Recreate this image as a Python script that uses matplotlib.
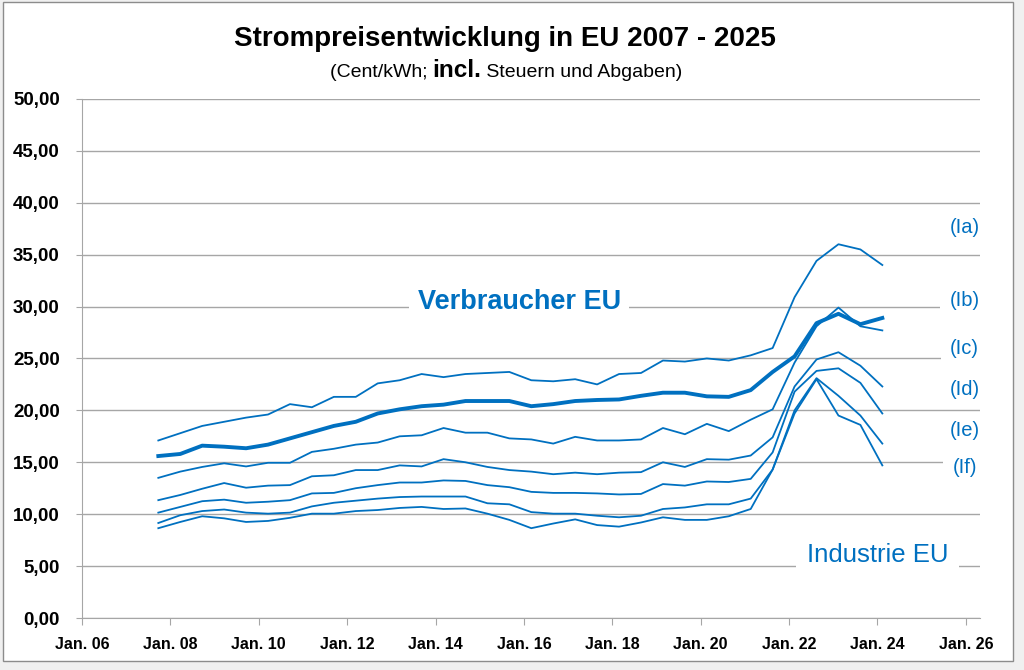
import matplotlib
matplotlib.use("Agg")
import matplotlib.pyplot as plt
import numpy as np
from matplotlib import font_manager as fm
from matplotlib.patches import Rectangle
from matplotlib.ticker import FixedLocator, FuncFormatter

# ---------------- data (Cent/kWh, semi-annual 2007-S2 ... 2024-S1) ----------------
periods = ["2007-S2"] + [f"{y}-S{s}" for y in range(2008, 2024) for s in (1, 2)] + ["2024-S1"]

households = [15.6, 15.8, 16.6, 16.5, 16.35, 16.7, 17.3, 17.9, 18.5, 18.9, 19.7, 20.1, 20.4, 20.55,
              20.9, 20.9, 20.9, 20.4, 20.6, 20.9, 21.0, 21.05, 21.4, 21.7, 21.7, 21.35, 21.3, 21.95,
              23.7, 25.2, 28.4, 29.3, 28.3, 28.9]
ind_ia = [17.1, 17.8, 18.5, 18.9, 19.3, 19.6, 20.6, 20.3, 21.3, 21.3, 22.6, 22.9, 23.5, 23.2, 23.5,
          23.6, 23.7, 22.9, 22.8, 23.0, 22.5, 23.5, 23.6, 24.8, 24.7, 25.0, 24.8, 25.3, 26.0, 30.9,
          34.4, 36.0, 35.5, 34.0]
ind_ib = [13.5, 14.1, 14.55, 14.9, 14.6, 14.95, 14.95, 16.0, 16.3, 16.7, 16.9, 17.5, 17.6, 18.3,
          17.85, 17.85, 17.3, 17.2, 16.8, 17.45, 17.1, 17.1, 17.2, 18.3, 17.7, 18.7, 18.0, 19.1,
          20.1, 24.6, 28.1, 29.9, 28.1, 27.7]
ind_ic = [11.35, 11.85, 12.45, 13.0, 12.55, 12.75, 12.8, 13.65, 13.75, 14.25, 14.25, 14.7, 14.6,
          15.3, 15.0, 14.55, 14.25, 14.1, 13.85, 14.0, 13.85, 14.0, 14.05, 15.0, 14.55, 15.3, 15.25,
          15.65, 17.4, 22.3, 24.9, 25.6, 24.3, 22.3]
ind_id = [10.15, 10.7, 11.25, 11.4, 11.1, 11.2, 11.35, 12.0, 12.05, 12.5, 12.8, 13.05, 13.05, 13.25,
          13.2, 12.8, 12.6, 12.15, 12.05, 12.05, 12.0, 11.9, 11.95, 12.9, 12.75, 13.15, 13.1, 13.4,
          15.95, 21.8, 23.8, 24.05, 22.65, 19.7]
ind_ie = [9.15, 9.9, 10.3, 10.45, 10.15, 10.05, 10.15, 10.75, 11.1, 11.3, 11.5, 11.65, 11.7, 11.7,
          11.7, 11.05, 10.95, 10.2, 10.05, 10.05, 9.85, 9.7, 9.85, 10.5, 10.65, 10.95, 10.95, 11.5,
          14.3, 20.0, 23.1, 21.4, 19.5, 16.8]
ind_if = [8.65, 9.25, 9.8, 9.6, 9.25, 9.35, 9.65, 10.05, 10.05, 10.3, 10.4, 10.6, 10.7, 10.5, 10.55,
          10.05, 9.45, 8.65, 9.1, 9.5, 8.95, 8.8, 9.2, 9.7, 9.45, 9.45, 9.8, 10.5, 14.3, 19.7, 23.0,
          19.5, 18.6, 14.7]

industry_series = [ind_ia, ind_ib, ind_ic, ind_id, ind_ie, ind_if]
industry_labels = ["(Ia)", "(Ib)", "(Ic)", "(Id)", "(Ie)", "(If)"]
industry_label_levels = [37.6, 30.6, 25.95, 22.0, 18.1, 14.5]

x_tick_years = list(range(2006, 2027, 2))
x_tick_labels = [f"Jan. {y % 100:02d}" for y in x_tick_years]
y_ticks = list(range(0, 51, 5))

title = "Strompreisentwicklung in EU 2007 - 2025"
sub_parts = [("(Cent/kWh; ", "normal", 14), ("incl.", "bold", 17.5), (" Steuern und Abgaben)", "normal", 14)]

# ---------------- fonts ----------------
def has_font(name):
    try:
        fm.findfont(fm.FontProperties(family=name), fallback_to_default=False)
        return True
    except Exception:
        return False

NARROW = "Liberation Sans Narrow" if has_font("Liberation Sans Narrow") else "Liberation Sans"
SANS = "Liberation Sans"
plt.rcParams["font.family"] = [SANS, "DejaVu Sans"]

BLUE = "#0070C0"
GRID = "#a6a6a6"

# ---------------- figure ----------------
W, H = 1024, 670
fig = plt.figure(figsize=(W / 100, H / 100), dpi=100, facecolor="#f0f0f0")
fig.patches.append(Rectangle((3 / W, 1 - 661 / H), 1010 / W, 659 / H, transform=fig.transFigure,
                             facecolor="white", edgecolor="#8c8c8c", linewidth=1.0, zorder=-10))

ax = fig.add_axes([82 / W, 1 - 618 / H, 898 / W, 519.1 / H])
ax.set_facecolor("none")
ax.set_zorder(5)

# x positions of the semi-annual observations
x_first, x_last = 2007.727, 2024.11
xpos = np.linspace(x_first, x_last, len(periods))

for s in industry_series:
    ax.plot(xpos, s, color=BLUE, lw=1.3, solid_joinstyle="round", zorder=3)
ax.plot(xpos, households, color=BLUE, lw=2.8, solid_joinstyle="round", zorder=4)

ax.set_xlim(2006, 2026.32)
ax.set_ylim(0, 50)
ax.yaxis.set_major_locator(FixedLocator(y_ticks))
ax.yaxis.set_major_formatter(FuncFormatter(lambda v, p: f"{v:.2f}".replace(".", ",")))
ax.set_xticks(x_tick_years)
ax.set_xticklabels(x_tick_labels)

ax.grid(axis="y", color=GRID, lw=1.0, zorder=1)
ax.grid(axis="x", visible=False)
ax.set_axisbelow(True)
for side in ("top", "right"):
    ax.spines[side].set_visible(False)
ax.spines["left"].set_color(GRID)
ax.spines["bottom"].set_color(GRID)
ax.tick_params(axis="y", direction="out", length=4, color=GRID, pad=12, labelsize=13.5)
ax.tick_params(axis="x", direction="out", length=5, color=GRID, pad=9, labelsize=11.5)
for lab in ax.get_yticklabels():
    lab.set_fontweight("bold"); lab.set_family([NARROW, SANS])
for lab in ax.get_xticklabels():
    lab.set_fontweight("bold"); lab.set_family([NARROW, SANS])

# annotations
ax.text(2015.89, 29.75, "Verbraucher EU", color=BLUE, fontsize=19.5, fontweight="bold",
        ha="center", va="baseline", zorder=5,
        bbox=dict(boxstyle="square,pad=0.3", facecolor="white", edgecolor="none"))
ax.text(2024.0, 5.4, "Industrie EU", color=BLUE, fontsize=18.5,
        ha="center", va="baseline", zorder=5,
        bbox=dict(boxstyle="square,pad=0.4", facecolor="white", edgecolor="none"))
for lab, lev in zip(industry_labels, industry_label_levels):
    ax.text(2025.97, lev, lab, color=BLUE, fontsize=14.5, ha="center", va="center", zorder=5,
            bbox=dict(boxstyle="square,pad=0.45", facecolor="white", edgecolor="none"))

# title and subtitle
fig.text(505 / W, 1 - 39 / H, title, ha="center", va="center", fontsize=20, fontweight="bold",
         family=[NARROW, SANS])

renderer = fig.canvas.get_renderer()
texts = []
for s, wgt, sz in sub_parts:
    t = fig.text(0, 1 - 77 / H, s, ha="left", va="baseline", fontsize=sz, fontweight=wgt,
                 family=[NARROW, SANS])
    texts.append(t)
widths = [t.get_window_extent(renderer).width for t in texts]
total = sum(widths)
xcur = 506 - total / 2
for t, w in zip(texts, widths):
    t.set_x(xcur / W)
    xcur += w

fig.savefig("out.png", dpi=100, facecolor=fig.get_facecolor())
